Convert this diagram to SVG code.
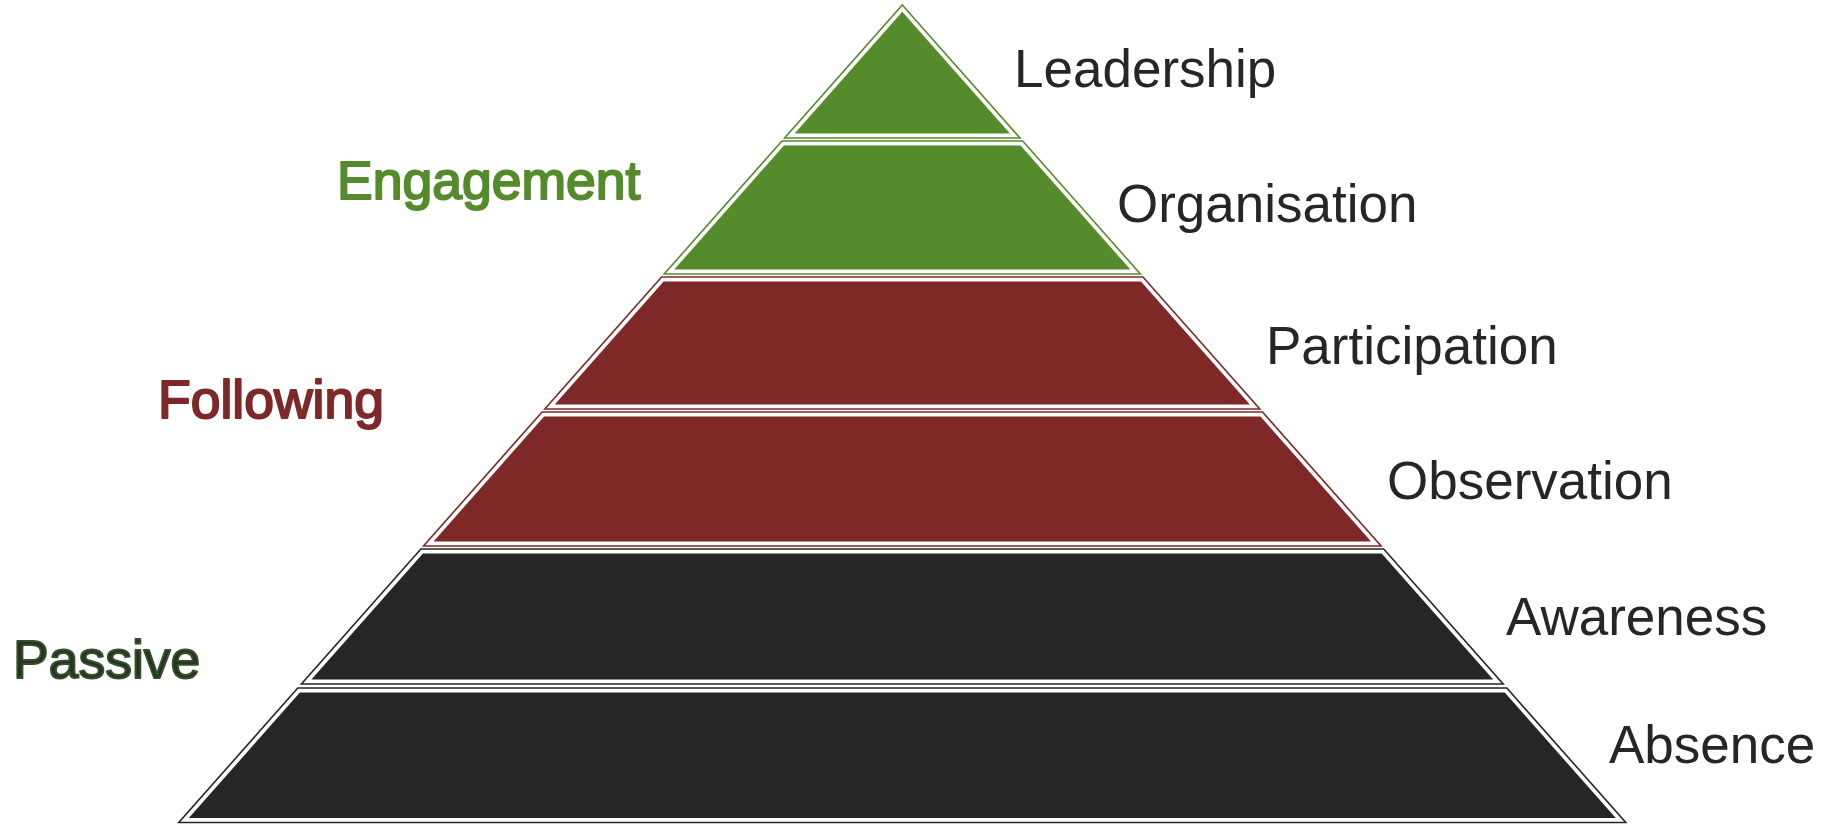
<svg xmlns="http://www.w3.org/2000/svg" width="1829" height="824" viewBox="0 0 1829 824">
<style>
.out{fill:none;stroke-width:1.6;stroke-linejoin:miter}
.g .out{stroke:#558B2B}.g .in{fill:#558B2B}
.r .out{stroke:#7E2828}.r .in{fill:#7E2828}
.k .out{stroke:#262626}.k .in{fill:#262626}
.lab{font-family:"Liberation Sans",Arial,sans-serif;font-size:53px;fill:#262626}
.grp{font-family:"Liberation Sans",Arial,sans-serif;font-size:53.5px;stroke-width:2;stroke-linejoin:round}
</style>
<rect width="1829" height="824" fill="#ffffff"/>
<g id="leadership" class="g">
<polygon class="out" points="902.3,5 1020,138 784.6,138"/>
<polygon class="in" points="902.3,11.8 1010,133.5 794.6,133.5"/>
<text class="lab" x="1014" y="87">Leadership</text>
</g>
<g id="organisation" class="g">
<polygon class="out" points="781.9,141 1022.7,141 1140.4,274 664.2,274"/>
<polygon class="in" points="784,145.5 1020.6,145.5 1130.4,269.5 674.2,269.5"/>
<text class="lab" x="1117" y="222">Organisation</text>
</g>
<g id="participation" class="r">
<polygon class="out" points="661.6,277 1143,277 1259.8,409 544.8,409"/>
<polygon class="in" points="663.6,281.5 1141,281.5 1249.9,404.5 554.7,404.5"/>
<text class="lab" x="1266" y="364">Participation</text>
</g>
<g id="observation" class="r">
<polygon class="out" points="542.1,412 1262.5,412 1381.1,546 423.5,546"/>
<polygon class="in" points="544.1,416.5 1260.5,416.5 1371.1,541.5 433.5,541.5"/>
<text class="lab" x="1387" y="499">Observation</text>
</g>
<g id="awareness" class="k">
<polygon class="out" points="420.9,549 1383.7,549 1503.2,684 301.4,684"/>
<polygon class="in" points="422.9,553.5 1381.7,553.5 1493.2,679.5 311.4,679.5"/>
<text class="lab" x="1506" y="635">Awareness</text>
</g>
<g id="absence" class="k">
<polygon class="out" points="297.8,688 1506.8,688 1625.8,822.5 178.8,822.5"/>
<polygon class="in" points="299.9,692.5 1504.7,692.5 1615.8,818 188.8,818"/>
<text class="lab" x="1609" y="763">Absence</text>
</g>
<g id="engagement"><text class="grp" x="337" y="199" fill="#558B2B" stroke="#558B2B">Engagement</text></g>
<g id="following"><text class="grp" x="158" y="418" fill="#7E2828" stroke="#7E2828">Following</text></g>
<g id="passive"><text class="grp" x="13" y="678" fill="#26331F" stroke="#34502A">Passive</text></g>
<g id="connectors"></g>
</svg>
